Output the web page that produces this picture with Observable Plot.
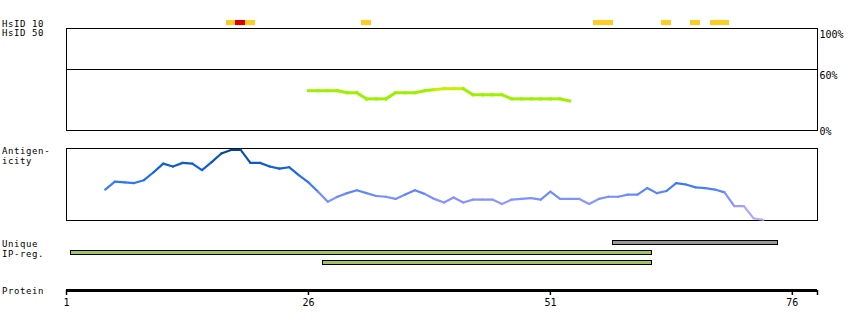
<!DOCTYPE html>
<html><head><meta charset="utf-8">
<script src="https://cdn.jsdelivr.net/npm/d3@7"></script>
<script src="https://cdn.jsdelivr.net/npm/@observablehq/plot@0.6"></script>
<style>
body{margin:0;background:#fff;}
#chart{position:relative;width:850px;height:330px;overflow:hidden;font-family:"DejaVu Sans Mono",monospace;font-size:10px;color:#000;background:#fff;}
.lbl{position:absolute;left:2px;line-height:10px;font-size:9px;letter-spacing:0.6px;white-space:pre;}
.panel{position:absolute;left:0;}
</style></head><body>
<div id="chart">
  <div class="lbl" style="top:18.5px">HsID 10</div>
  <div class="lbl" style="top:27.8px">HsID 50</div>
  <div class="lbl" style="top:145.5px">Antigen-</div>
  <div class="lbl" style="top:155.5px">icity</div>
  <div class="lbl" style="top:238.5px">Unique</div>
  <div class="lbl" style="top:249px">IP-reg.</div>
  <div class="lbl" style="top:285.5px">Protein</div>
</div>
<script>
// ---- data ----
const proteinStart = 1, proteinEnd = 78.6;
const axisTicks = [1, 26, 51, 76];

// HsID 10 hits (per residue)
const hsidResidues = [18, 19, 20, 32, 56, 57, 63, 66, 68, 69];
const hsidLevels   = ["mid","high","mid","mid","mid","mid","mid","mid","mid","mid"];

// HsID 50 identity line (%), residues 26..53
const identityFirst = 26;
const identityPct = [39,39,39,39,37,37,31,31,31,37,37,37,39,40,41,41,41,35,35,35,35,31,31,31,31,31,31,29];
const identityTicks = [100, 60];
const identityBottomTick = [0];

// Antigenicity score (0-100), residues 5..73
const antigenFirst = 5;
const antigenScores = [43,54,53,52,56,67,79,75,80,79,70,81,93,98,98,80,80,75,72,74,63,53,40,26,33,38,42,38,34,33,30,36,42,37,30,25,32,25,29,29,29,23,29,30,31,29,40,30,30,30,23,30,33,33,36,36,45,38,41,52,50,46,45,43,39,20,20,3,1];

// Unique / IP-reg. regions
const regionNames  = ["Unique", "IP-reg. 1", "IP-reg. 2"];
const regionStarts = [58, 2, 28];
const regionEnds   = [74, 61, 61];
const regionKinds  = ["unique", "ipreg", "ipreg"];

// ---- helpers ----
const W = 850, ML = 66, MR = 33;
const xScale = {domain: [proteinStart, proteinEnd], axis: null};
const style = {fontFamily: "DejaVu Sans Mono, monospace", fontSize: "10px", background: "transparent", overflow: "visible"};
function segments(first, vals) {
  return vals.slice(1).map((v, i) => ({x1: first + i, y1: vals[i], x2: first + i + 1, y2: v}));
}
const chart = document.getElementById("chart");
function place(svg, top) {
  const d = document.createElement("div");
  d.className = "panel"; d.style.top = top + "px";
  d.appendChild(svg); chart.appendChild(d);
}

// HsID bars
const hsidColor = {mid: "#ffcc22", high: "#dd0000"};
const hsidTable = hsidResidues.map((r, i) => ({r, level: hsidLevels[i]}));
place(Plot.plot({
  width: W, height: 26, marginLeft: ML, marginRight: MR, marginTop: 20, marginBottom: 1, style,
  x: xScale, y: {domain: ["HsID 10"], axis: null, padding: 0},
  marks: [
    Plot.barX(hsidTable, {x1: d => d.r - 0.5, x2: d => d.r + 0.5, y: () => "HsID 10",
      fill: d => hsidColor[d.level], shapeRendering: "crispEdges"})
  ]
}), 0);

// Identity panel
const idColor = d => Math.min(d.y1, d.y2) >= 40 ? "#c8f000" : "#9cf000";
place(Plot.plot({
  width: W, height: 115, marginLeft: ML, marginRight: MR, marginTop: 8, marginBottom: 5, style,
  x: xScale, y: {domain: [0, 100], axis: null},
  marks: [
    Plot.frame({stroke: "black", shapeRendering: "crispEdges"}),
    Plot.ruleY([60], {stroke: "black", shapeRendering: "crispEdges"}),
    Plot.link(segments(identityFirst, identityPct), {x1: "x1", y1: "y1", x2: "x2", y2: "y2",
      stroke: idColor, strokeWidth: 3, strokeLinecap: "square"}),
    Plot.axisY({ticks: identityTicks, anchor: "right", tickSize: 0, tickPadding: 2, tickFormat: d => d + "%", textAnchor: "start", dy: 6}),
    Plot.axisY({ticks: identityBottomTick, anchor: "right", tickSize: 0, tickPadding: 2, tickFormat: d => d + "%", textAnchor: "start", dy: 1})
  ]
}), 20);

// Antigenicity panel
const agColor = d3.scaleLinear()
  .domain([0, 20, 35, 50, 70, 90, 100])
  .range(["#b8b0ff", "#9e9eff", "#6e8cff", "#3579f7", "#1464e0", "#0852b0", "#00428a"]);
place(Plot.plot({
  width: W, height: 85, marginLeft: ML, marginRight: MR, marginTop: 8, marginBottom: 5, style,
  x: xScale, y: {domain: [0, 100], axis: null},
  marks: [
    Plot.frame({stroke: "black", shapeRendering: "crispEdges"}),
    Plot.link(segments(antigenFirst, antigenScores), {x1: "x1", y1: "y1", x2: "x2", y2: "y2",
      stroke: d => agColor((d.y1 + d.y2) / 2), strokeWidth: 2.2, strokeLinecap: "round"})
  ]
}), 140);

// Regions
const regionFill = {unique: "#999999", ipreg: "#a0c464"};
const regionTable = regionNames.map((n, i) => ({n, s: regionStarts[i], e: regionEnds[i], k: regionKinds[i]}));
place(Plot.plot({
  width: W, height: 40, marginLeft: ML, marginRight: MR, marginTop: 10, marginBottom: 6, style,
  x: xScale, y: {domain: regionNames, axis: null, paddingInner: 0.6, paddingOuter: 0},
  marks: [
    Plot.barX(regionTable, {x1: d => d.s - 0.5, x2: d => d.e + 0.5, y: "n",
      fill: d => regionFill[d.k], stroke: "black", strokeWidth: 1, shapeRendering: "crispEdges"})
  ]
}), 230);

// Protein axis
place(Plot.plot({
  width: W, height: 40, marginLeft: ML, marginRight: MR, marginTop: 10, marginBottom: 20, style,
  x: {domain: [proteinStart, proteinEnd]}, y: {domain: [0, 1], axis: null},
  marks: [
    Plot.ruleY([0], {strokeWidth: 3}),
    Plot.axisX({ticks: [...axisTicks, proteinEnd], anchor: "bottom", tickSize: 5, tickPadding: 3,
      tickFormat: d => axisTicks.includes(d) ? String(d) : "", strokeWidth: 1.5})
  ]
}), 270);
</script>
</body></html>
